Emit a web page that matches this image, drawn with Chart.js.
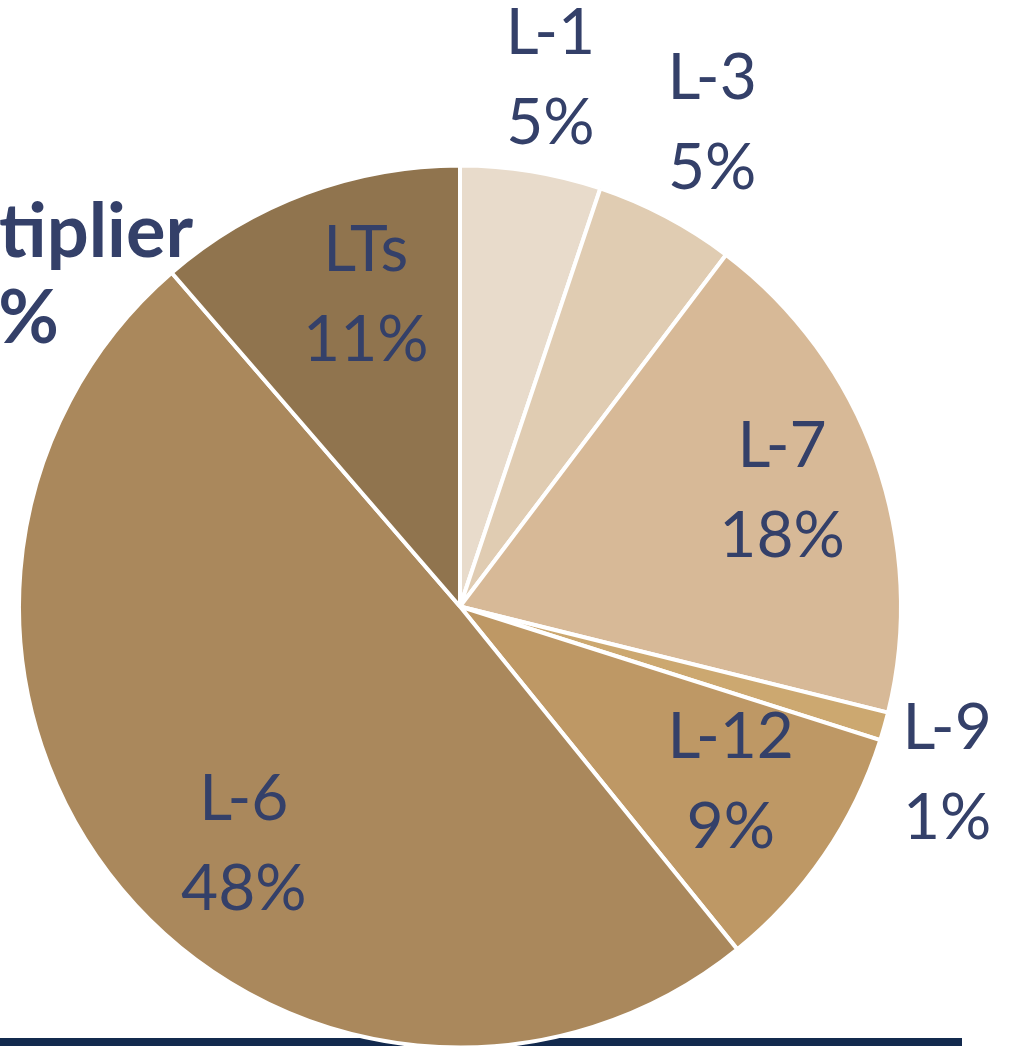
<!DOCTYPE html>
<html>
<head>
<meta charset="utf-8">
<script src="https://cdn.jsdelivr.net/npm/chart.js@4/dist/chart.umd.min.js"></script>
<style>
  html, body { margin: 0; padding: 0; background: #ffffff; overflow: hidden; }
  #wrap { position: relative; width: 1017px; height: 1046px; }
</style>
</head>
<body>
<div id="wrap"><canvas id="c" width="1017" height="1046"></canvas></div>
<script>
// ---- data ----
const categories = ['L-1', 'L-3', 'L-7', 'L-9', 'L-12', 'L-6', 'LTs'];
const shares = [5, 5, 18, 1, 9, 48, 11];
const shareLabels = ['5%', '5%', '18%', '1%', '9%', '48%', '11%'];
const sideTextLines = ['Multiplier', '%'];

// ---- styles ----
const sliceColors = ['#E8DBCB', '#E0CCB2', '#D7B997', '#CCA870', '#BE9865', '#AA885C', '#90744E'];
const textColor = '#344069';
// label placement relative to slice geometry (radius factor, angle shift in degrees)
const labelRadius = [1.22, 1.241, 0.777, 1.166, 0.729, 0.724, 0.743];
const labelShift = [0.4, -0.4, -0.5, 2.9, -1.7, -7.5, 3.7];

const labelPlugin = {
  id: 'sliceLabels',
  beforeDatasetsDraw(chart) {
    const ctx = chart.ctx;
    ctx.save();
    ctx.fillStyle = '#132A4E';
    ctx.fillRect(0, 1038, 962, 9);
    // partial side title from neighbouring panel
    ctx.fillStyle = textColor;
    ctx.font = 'bold 74px Lato, "Open Sans", sans-serif';
    ctx.textAlign = 'right';
    ctx.textBaseline = 'alphabetic';
    ctx.fillText(sideTextLines[0], 193, 257);
    ctx.fillText(sideTextLines[1], 59, 343);
    ctx.restore();
  },
  afterDatasetsDraw(chart) {
    const ctx = chart.ctx;
    const meta = chart.getDatasetMeta(0);
    ctx.save();
    ctx.fillStyle = textColor;
    ctx.font = '64px Lato, "Open Sans", sans-serif';
    ctx.textAlign = 'center';
    ctx.textBaseline = 'alphabetic';
    meta.data.forEach((arc, i) => {
      const p = arc.getProps(['x', 'y', 'startAngle', 'endAngle', 'outerRadius'], true);
      const mid = (p.startAngle + p.endAngle) / 2 + labelShift[i] * Math.PI / 180;
      const r = p.outerRadius * labelRadius[i];
      const cx = p.x + Math.cos(mid) * r;
      const cy = p.y + Math.sin(mid) * r;
      ctx.fillText(categories[i], cx, cy - 45 + 23);
      ctx.fillText(shareLabels[i], cx, cy + 45 + 23);
    });
    ctx.restore();
  }
};

new Chart(document.getElementById('c'), {
  type: 'pie',
  data: {
    labels: categories,
    datasets: [{
      data: shares,
      backgroundColor: sliceColors,
      borderColor: '#ffffff',
      borderWidth: 4
    }]
  },
  options: {
    responsive: false,
    animation: false,
    radius: 441,
    layout: { padding: { left: 20, top: 167, right: 117, bottom: 0 } },
    plugins: { legend: { display: false }, tooltip: { enabled: false } }
  },
  plugins: [labelPlugin]
});
</script>
</body>
</html>
